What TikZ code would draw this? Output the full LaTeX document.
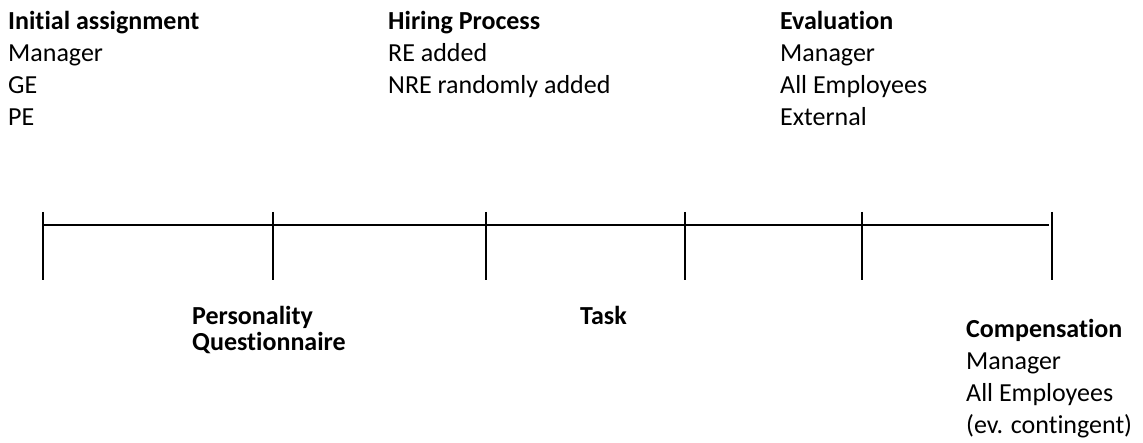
\documentclass[tikz,border=0pt]{standalone}
\usepackage{fontspec}
\setmainfont{Carlito}[Ligatures=NoCommon]
\begin{document}
\begin{tikzpicture}[x=1pt,y=-1pt,
  lbl/.style={anchor=base west,inner sep=0pt,font=\fontsize{26}{31.7}\selectfont},
  head/.style={lbl,font=\fontsize{26}{31.7}\selectfont\bfseries},
  tl/.style={line width=1.6pt,black},
  tick/.style={line width=1.6pt,black}]
\useasboundingbox (0,0) rectangle (1143,443);
% timeline points
\foreach \n/\x in {1/43,2/273,3/486,4/685,5/862,6/1052}{
  \coordinate (t\n) at (\x,225);
  \coordinate (t\n top) at (\x,212);
  \coordinate (t\n bot) at (\x,280);
}
\coordinate (lineend) at (1049,225);
\draw[tl] (t1) -- (lineend);
\foreach \n in {1,...,6}{\draw[tick] (t\n top) -- (t\n bot);}
% top labels
\node[head] (ia) at (8,30) {Initial assignment};
\node[lbl] (ia1) at (8,61.7) {Manager};
\node[lbl] (ia2) at (8,93.4) {GE};
\node[lbl] (ia3) at (8,125.1) {PE};
\node[head] (hp) at (388,30) {Hiring Process};
\node[lbl] (hp1) at (388,61.7) {RE added};
\node[lbl] (hp2) at (388,93.4) {NRE randomly added};
\node[head] (ev) at (780,30) {Evaluation};
\node[lbl] (ev1) at (780,61.7) {Manager};
\node[lbl] (ev2) at (780,93.4) {All Employees};
\node[lbl] (ev3) at (780,125.1) {External};
% bottom labels
\node[head] (pq) at (192,324.5) {Personality};
\node[head] (pq2) at (192,351) {Questionnaire};
\node[head] (task) at (580,324.5) {Task};
\node[head] (co) at (966,338) {Compensation};
\node[lbl] (co1) at (966,369.7) {Manager};
\node[lbl] (co2) at (966,401.4) {All Employees};
\node[lbl] (co3) at (966,433.1) {(ev. contingent)};
\end{tikzpicture}
\end{document}
